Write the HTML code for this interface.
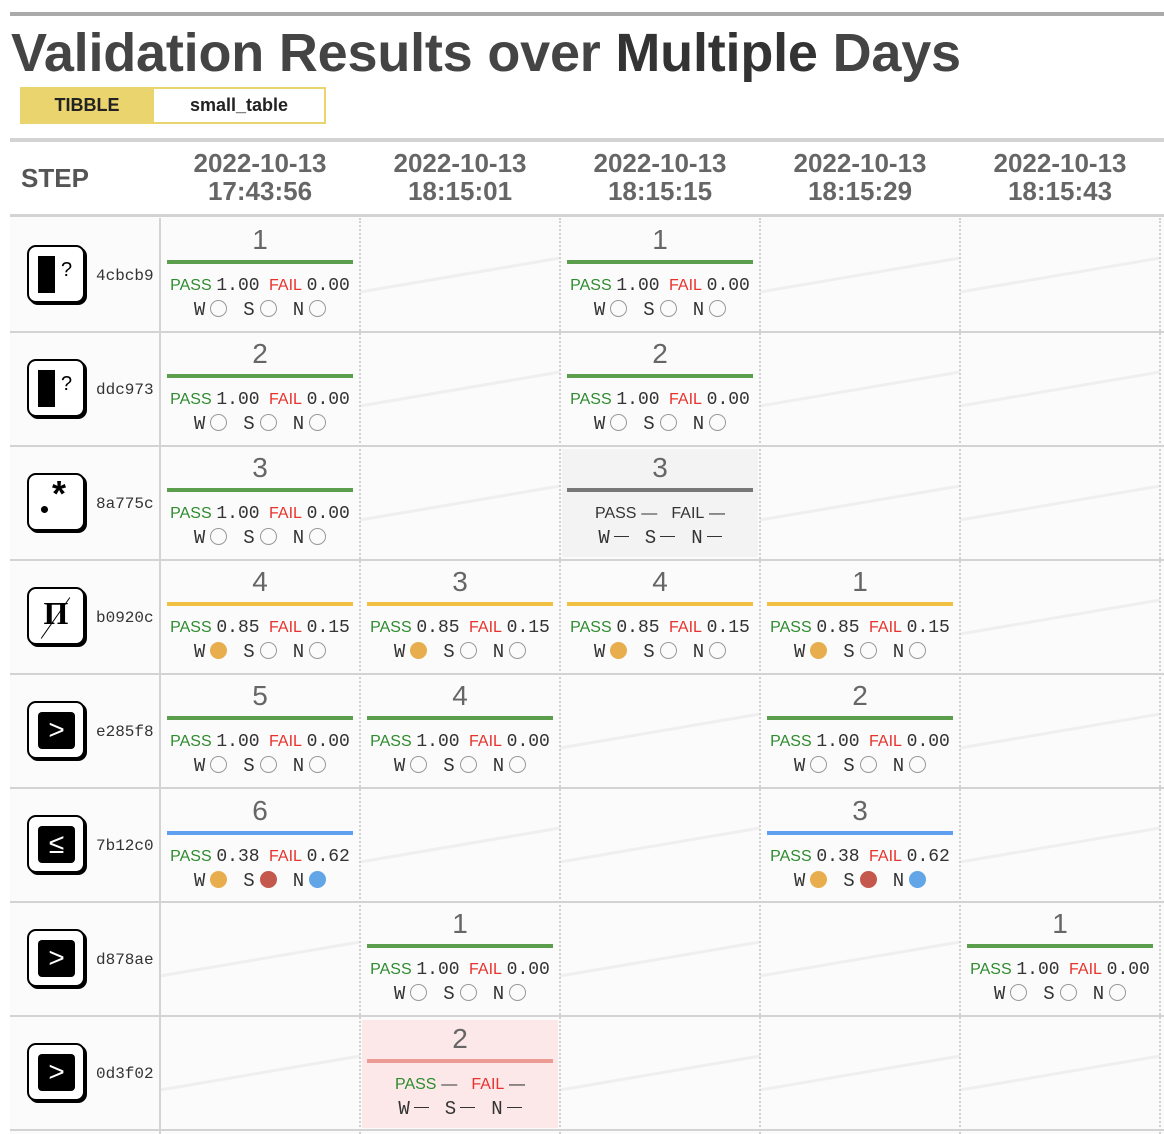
<!DOCTYPE html>
<html><head><meta charset="utf-8"><style>
*{margin:0;padding:0;box-sizing:border-box}
body{width:1164px;height:1134px;background:#fff;position:relative;overflow:hidden;font-family:"Liberation Sans",sans-serif}
.abs{position:absolute}
.hl{position:absolute;left:10px;width:1154px;background:#d3d3d3}
.title{position:absolute;left:11px;top:22px;font-size:54px;font-weight:bold;color:#444;white-space:nowrap;letter-spacing:-0.2px}
.date{position:absolute;top:149px;width:200px;text-align:center;font-size:26px;font-weight:bold;color:#666;line-height:28px}
.vl{position:absolute;top:218px;height:916px;border-left:2px dotted #d0d0d0}
.icon{position:absolute;left:27px;width:58px;height:58px;border:2px solid #000;border-radius:9px;background:#fff;box-shadow:2px 2px 0 #000}
.inner{position:absolute;left:9px;top:9px;width:37px;height:37px;background:#000;border-radius:4px;color:#fff;font-size:28px;text-align:center;line-height:35px}
.sid{position:absolute;left:96px;font-family:"Liberation Mono",monospace;font-size:16px;color:#333}
.cell{position:absolute;width:200px;height:114px}
.bg{position:absolute;left:2px;top:3px;width:196px;height:108px}
.num{position:absolute;left:0;top:6px;width:200px;text-align:center;font-size:28px;color:#666}
.bar{position:absolute;left:7px;top:42px;width:186px;height:4px}
.pf{position:absolute;left:0;top:57px;width:200px;text-align:center;font-size:17px;white-space:nowrap}
.pf .p{color:#2e8b2e;font-size:16px}.pf .f{color:#e8322c;font-size:16px}
.pf .v{font-family:"Liberation Mono",monospace;color:#333;font-size:18px}
.w{position:absolute;left:0;top:81px;width:200px;text-align:center;font-family:"Liberation Mono",monospace;font-size:19px;color:#333;white-space:nowrap}
.c{display:inline-block;width:17px;height:17px;border-radius:50%;border:1px solid #999;vertical-align:-2px;margin-left:5px;margin-right:16px}
.o{background:#e8ae4e;border-color:#e8ae4e}.r{background:#c4584d;border-color:#c4584d}.b{background:#62a6e8;border-color:#62a6e8}
.d{font-size:16px;color:#333}
.wd{display:inline-block;width:15px;height:1.5px;background:#333;vertical-align:6px;margin-left:4px;margin-right:16px}
svg.diag{position:absolute;left:0;top:0}
</style></head><body>
<div class="abs" style="left:10px;top:12px;width:1154px;height:4px;background:#aaa"></div>
<div class="title">Validation Results over <span style="color:#333">Multiple</span> Days</div>
<div class="abs" style="left:20px;top:87px;width:306px;height:37px;border:2px solid #ead46e;background:#fff"></div>
<div class="abs" style="left:20px;top:87px;width:134px;height:37px;background:#ead46e;font-weight:bold;font-size:18px;color:#222;text-align:center;line-height:37px">TIBBLE</div>
<div class="abs" style="left:154px;top:87px;width:170px;height:37px;font-weight:bold;font-size:18px;color:#222;text-align:center;line-height:37px">small_table</div>
<div class="hl" style="top:138px;height:4px"></div>
<div class="abs" style="left:21px;top:163px;font-size:26px;font-weight:bold;color:#555">STEP</div>
<div class="date" style="left:160px">2022-10-13<br>17:43:56</div>
<div class="date" style="left:360px">2022-10-13<br>18:15:01</div>
<div class="date" style="left:560px">2022-10-13<br>18:15:15</div>
<div class="date" style="left:760px">2022-10-13<br>18:15:29</div>
<div class="date" style="left:960px">2022-10-13<br>18:15:43</div>
<div class="hl" style="top:214px;height:3px"></div>
<div class="abs" style="left:10px;top:217px;width:1154px;height:917px;background:#fbfbfb"></div>
<svg class="diag" width="1164" height="1134">
<g stroke="#efefef" stroke-width="3">
<line x1="360" y1="292" x2="560" y2="258"/><line x1="760" y1="292" x2="960" y2="258"/><line x1="960" y1="292" x2="1160" y2="258"/>
<line x1="360" y1="406" x2="560" y2="372"/><line x1="760" y1="406" x2="960" y2="372"/><line x1="960" y1="406" x2="1160" y2="372"/>
<line x1="360" y1="520" x2="560" y2="486"/><line x1="760" y1="520" x2="960" y2="486"/><line x1="960" y1="520" x2="1160" y2="486"/>
<line x1="960" y1="634" x2="1160" y2="600"/>
<line x1="560" y1="748" x2="760" y2="714"/><line x1="960" y1="748" x2="1160" y2="714"/>
<line x1="360" y1="862" x2="560" y2="828"/><line x1="560" y1="862" x2="760" y2="828"/><line x1="960" y1="862" x2="1160" y2="828"/>
<line x1="160" y1="976" x2="360" y2="942"/><line x1="560" y1="976" x2="760" y2="942"/><line x1="760" y1="976" x2="960" y2="942"/>
<line x1="160" y1="1090" x2="360" y2="1056"/><line x1="560" y1="1090" x2="760" y2="1056"/><line x1="760" y1="1090" x2="960" y2="1056"/><line x1="960" y1="1090" x2="1160" y2="1056"/>
</g></svg>
<div class="hl" style="top:331px;height:2px"></div>
<div class="hl" style="top:445px;height:2px"></div>
<div class="hl" style="top:559px;height:2px"></div>
<div class="hl" style="top:673px;height:2px"></div>
<div class="hl" style="top:787px;height:2px"></div>
<div class="hl" style="top:901px;height:2px"></div>
<div class="hl" style="top:1015px;height:2px"></div>
<div class="hl" style="top:1129px;height:2px"></div>
<div class="abs" style="left:159px;top:218px;width:2px;height:916px;background:#d3d3d3"></div>
<div class="vl" style="left:359px"></div><div class="vl" style="left:559px"></div><div class="vl" style="left:759px"></div><div class="vl" style="left:959px"></div><div class="vl" style="left:1159px"></div>

<div class="icon" style="top:245px"><div class="abs" style="left:9px;top:9px;width:17px;height:37px;background:#000"></div><div class="abs" style="left:32px;top:12px;font-size:20px;color:#000">?</div></div><div class="sid" style="top:267px">4cbcb9</div>
<div class="icon" style="top:359px"><div class="abs" style="left:9px;top:9px;width:17px;height:37px;background:#000"></div><div class="abs" style="left:32px;top:12px;font-size:20px;color:#000">?</div></div><div class="sid" style="top:381px">ddc973</div>
<div class="icon" style="top:473px"><div class="abs" style="left:12px;top:31px;width:7px;height:7px;border-radius:50%;background:#000"></div><div class="abs" style="left:23px;top:-2px;font-size:36px;font-weight:bold;color:#000">*</div></div><div class="sid" style="top:495px">8a775c</div>
<div class="icon" style="top:587px"><div class="abs" style="left:0;top:6px;width:54px;text-align:center;font-size:32px;font-weight:bold;color:#000;font-family:'Liberation Serif',serif">&#x03A0;</div><div class="abs" style="left:26px;top:4px;width:1px;height:50px;background:#000;transform:rotate(35deg)"></div></div><div class="sid" style="top:609px">b0920c</div>
<div class="icon" style="top:701px"><div class="inner">&gt;</div></div><div class="sid" style="top:723px">e285f8</div>
<div class="icon" style="top:815px"><div class="inner">&le;</div></div><div class="sid" style="top:837px">7b12c0</div>
<div class="icon" style="top:929px"><div class="inner">&gt;</div></div><div class="sid" style="top:951px">d878ae</div>
<div class="icon" style="top:1043px"><div class="inner">&gt;</div></div><div class="sid" style="top:1065px">0d3f02</div>

<div class="cell" style="left:160px;top:218px"><div class="num">1</div><div class="bar" style="background:#5b9e4d"></div><div class="pf"><span class="p">PASS</span> <span class="v">1.00</span> &nbsp;<span class="f">FAIL</span> <span class="v">0.00</span></div><div class="w">W<span class="c"></span>S<span class="c"></span>N<span class="c" style="margin-right:0"></span></div></div>
<div class="cell" style="left:560px;top:218px"><div class="num">1</div><div class="bar" style="background:#5b9e4d"></div><div class="pf"><span class="p">PASS</span> <span class="v">1.00</span> &nbsp;<span class="f">FAIL</span> <span class="v">0.00</span></div><div class="w">W<span class="c"></span>S<span class="c"></span>N<span class="c" style="margin-right:0"></span></div></div>
<div class="cell" style="left:160px;top:332px"><div class="num">2</div><div class="bar" style="background:#5b9e4d"></div><div class="pf"><span class="p">PASS</span> <span class="v">1.00</span> &nbsp;<span class="f">FAIL</span> <span class="v">0.00</span></div><div class="w">W<span class="c"></span>S<span class="c"></span>N<span class="c" style="margin-right:0"></span></div></div>
<div class="cell" style="left:560px;top:332px"><div class="num">2</div><div class="bar" style="background:#5b9e4d"></div><div class="pf"><span class="p">PASS</span> <span class="v">1.00</span> &nbsp;<span class="f">FAIL</span> <span class="v">0.00</span></div><div class="w">W<span class="c"></span>S<span class="c"></span>N<span class="c" style="margin-right:0"></span></div></div>
<div class="cell" style="left:160px;top:446px"><div class="num">3</div><div class="bar" style="background:#5b9e4d"></div><div class="pf"><span class="p">PASS</span> <span class="v">1.00</span> &nbsp;<span class="f">FAIL</span> <span class="v">0.00</span></div><div class="w">W<span class="c"></span>S<span class="c"></span>N<span class="c" style="margin-right:0"></span></div></div>
<div class="cell" style="left:560px;top:446px"><div class="bg" style="background:#f3f3f3"></div><div class="num">3</div><div class="bar" style="background:#777"></div><div class="pf"><span class="p" style="color:#333">PASS</span> <span class="d">&mdash;</span> &nbsp;&nbsp;<span class="f" style="color:#333">FAIL</span> <span class="d">&mdash;</span></div><div class="w">W<span class="wd"></span>S<span class="wd"></span>N<span class="wd" style="margin-right:0"></span></div></div>
<div class="cell" style="left:160px;top:560px"><div class="num">4</div><div class="bar" style="background:#f2c043"></div><div class="pf"><span class="p">PASS</span> <span class="v">0.85</span> &nbsp;<span class="f">FAIL</span> <span class="v">0.15</span></div><div class="w">W<span class="c o"></span>S<span class="c"></span>N<span class="c" style="margin-right:0"></span></div></div>
<div class="cell" style="left:360px;top:560px"><div class="num">3</div><div class="bar" style="background:#f2c043"></div><div class="pf"><span class="p">PASS</span> <span class="v">0.85</span> &nbsp;<span class="f">FAIL</span> <span class="v">0.15</span></div><div class="w">W<span class="c o"></span>S<span class="c"></span>N<span class="c" style="margin-right:0"></span></div></div>
<div class="cell" style="left:560px;top:560px"><div class="num">4</div><div class="bar" style="background:#f2c043"></div><div class="pf"><span class="p">PASS</span> <span class="v">0.85</span> &nbsp;<span class="f">FAIL</span> <span class="v">0.15</span></div><div class="w">W<span class="c o"></span>S<span class="c"></span>N<span class="c" style="margin-right:0"></span></div></div>
<div class="cell" style="left:760px;top:560px"><div class="num">1</div><div class="bar" style="background:#f2c043"></div><div class="pf"><span class="p">PASS</span> <span class="v">0.85</span> &nbsp;<span class="f">FAIL</span> <span class="v">0.15</span></div><div class="w">W<span class="c o"></span>S<span class="c"></span>N<span class="c" style="margin-right:0"></span></div></div>
<div class="cell" style="left:160px;top:674px"><div class="num">5</div><div class="bar" style="background:#5b9e4d"></div><div class="pf"><span class="p">PASS</span> <span class="v">1.00</span> &nbsp;<span class="f">FAIL</span> <span class="v">0.00</span></div><div class="w">W<span class="c"></span>S<span class="c"></span>N<span class="c" style="margin-right:0"></span></div></div>
<div class="cell" style="left:360px;top:674px"><div class="num">4</div><div class="bar" style="background:#5b9e4d"></div><div class="pf"><span class="p">PASS</span> <span class="v">1.00</span> &nbsp;<span class="f">FAIL</span> <span class="v">0.00</span></div><div class="w">W<span class="c"></span>S<span class="c"></span>N<span class="c" style="margin-right:0"></span></div></div>
<div class="cell" style="left:760px;top:674px"><div class="num">2</div><div class="bar" style="background:#5b9e4d"></div><div class="pf"><span class="p">PASS</span> <span class="v">1.00</span> &nbsp;<span class="f">FAIL</span> <span class="v">0.00</span></div><div class="w">W<span class="c"></span>S<span class="c"></span>N<span class="c" style="margin-right:0"></span></div></div>
<div class="cell" style="left:160px;top:789px"><div class="num">6</div><div class="bar" style="background:#5f9ff0"></div><div class="pf"><span class="p">PASS</span> <span class="v">0.38</span> &nbsp;<span class="f">FAIL</span> <span class="v">0.62</span></div><div class="w">W<span class="c o"></span>S<span class="c r"></span>N<span class="c b" style="margin-right:0"></span></div></div>
<div class="cell" style="left:760px;top:789px"><div class="num">3</div><div class="bar" style="background:#5f9ff0"></div><div class="pf"><span class="p">PASS</span> <span class="v">0.38</span> &nbsp;<span class="f">FAIL</span> <span class="v">0.62</span></div><div class="w">W<span class="c o"></span>S<span class="c r"></span>N<span class="c b" style="margin-right:0"></span></div></div>
<div class="cell" style="left:360px;top:902px"><div class="num">1</div><div class="bar" style="background:#5b9e4d"></div><div class="pf"><span class="p">PASS</span> <span class="v">1.00</span> &nbsp;<span class="f">FAIL</span> <span class="v">0.00</span></div><div class="w">W<span class="c"></span>S<span class="c"></span>N<span class="c" style="margin-right:0"></span></div></div>
<div class="cell" style="left:960px;top:902px"><div class="num">1</div><div class="bar" style="background:#5b9e4d"></div><div class="pf"><span class="p">PASS</span> <span class="v">1.00</span> &nbsp;<span class="f">FAIL</span> <span class="v">0.00</span></div><div class="w">W<span class="c"></span>S<span class="c"></span>N<span class="c" style="margin-right:0"></span></div></div>
<div class="cell" style="left:360px;top:1017px"><div class="bg" style="background:#fce8e8"></div><div class="num">2</div><div class="bar" style="background:#eb9b93"></div><div class="pf"><span class="p">PASS</span> <span class="d">&mdash;</span> &nbsp;&nbsp;<span class="f">FAIL</span> <span class="d">&mdash;</span></div><div class="w">W<span class="wd"></span>S<span class="wd"></span>N<span class="wd" style="margin-right:0"></span></div></div>
</body></html>
